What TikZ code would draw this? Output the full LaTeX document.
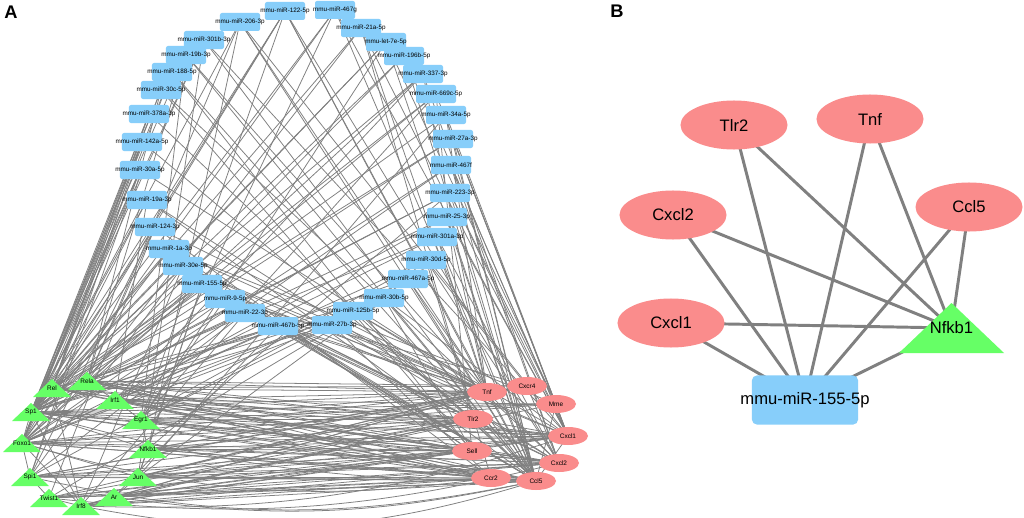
\documentclass[tikz,border=0pt]{standalone}
\usepackage{fontspec}
\setmainfont{Liberation Sans}
\usetikzlibrary{shapes.geometric}
\definecolor{mirblue}{RGB}{135,206,250}
\definecolor{genepink}{RGB}{250,140,140}
\definecolor{tfgreen}{RGB}{102,255,102}
\definecolor{edgegray}{RGB}{128,128,128}
\pgfdeclarelayer{background}
\pgfsetlayers{background,main}
\tikzset{
  panel/.style={inner sep=0pt, font=\bfseries\fontsize{13}{13}\selectfont},
  mirbox/.style={rectangle, rounded corners=0.05cm, fill=mirblue, minimum width=1cm,
    minimum height=0.45cm, inner sep=0pt, font=\fontsize{4.5}{5}\selectfont},
  geneA/.style={ellipse, fill=genepink, minimum width=1cm, minimum height=0.45cm,
    inner sep=0pt, font=\fontsize{4.6}{5}\selectfont},
  tflabel/.style={inner sep=0pt, font=\fontsize{4.6}{5}\selectfont},
  edgeA/.style={draw=edgegray, line width=0.55pt},
  geneB/.style={ellipse, fill=genepink, minimum width=2.675cm, minimum height=1.225cm,
    inner sep=0pt, font=\fontsize{11.8}{13}\selectfont},
  mirboxB/.style={rectangle, rounded corners=0.12cm, fill=mirblue, minimum width=2.65cm,
    minimum height=1.225cm, inner sep=0pt, font=\fontsize{11.8}{13}\selectfont},
  labelB/.style={inner sep=0pt, font=\fontsize{11.8}{13}\selectfont},
  edgeB/.style={draw=edgegray, line width=2.1pt}
}
\begin{document}
\begin{tikzpicture}[x=0.025cm, y=-0.025cm]
  % white page, one unit is one pixel
  \begin{pgfonlayer}{background}
    \fill[white] (0,0) rectangle (1024,518);
  \end{pgfonlayer}
  \useasboundingbox (0,0) rectangle (1024,518);

  % panel letters
  \node[panel] (letA) at (11,12) {A};
  \node[panel] (letB) at (617,11) {B};

  % A: ring of miRNAs
  \foreach \n/\x/\y/\lab in {
    m122/285/11/mmu-miR-122-5p, m206/240/22/mmu-miR-206-3p,
    m301b/204/40/mmu-miR-301b-3p, m19b/186/55/mmu-miR-19b-3p,
    m188/172/72/mmu-miR-188-5p, m30c/161/90/mmu-miR-30c-5p,
    m378a/149/114/mmu-miR-378a-3p, m142a/142/142/mmu-miR-142a-5p,
    m30a/140/170/mmu-miR-30a-5p, m19a/147/200/mmu-miR-19a-3p,
    m124/155/227/mmu-miR-124-3p, m1a/169/249/mmu-miR-1a-3p,
    m30e/183/266/mmu-miR-30e-5p, m155/202/284/mmu-miR-155-5p,
    m9/225/299/mmu-miR-9-5p, m22/245/313/mmu-miR-22-3p,
    m467b/278/326/mmu-miR-467b-5p, m27b/332/325/mmu-miR-27b-3p,
    m125b/353/311/mmu-miR-125b-5p, m30b/384/298/mmu-miR-30b-5p,
    m467a/408/279/mmu-miR-467a-5p, m30d/426/260/mmu-miR-30d-5p,
    m301a/437/237/mmu-miR-301a-3p, m25/447/217/mmu-miR-25-3p,
    m223/450/193/mmu-miR-223-3p, m467f/451/165/mmu-miR-467f,
    m27a/453/139/mmu-miR-27a-3p, m34a/446/115/mmu-miR-34a-5p,
    m669c/436/94/mmu-miR-669c-5p, m337/423/74/mmu-miR-337-3p,
    m196b/404/56/mmu-miR-196b-5p, let7e/386/42/mmu-let-7e-5p,
    m21a/361/28/mmu-miR-21a-5p, m467g/335/10/mmu-miR-467g}
    \node[mirbox] (\n) at (\x,\y) {\makebox[0pt]{\lab}};

  % A: transcription factors (triangles)
  \foreach \n/\x/\y/\lab in {
    rel/52/388/Rel, rela/87/381/Rela, irf1/115/400/Irf1, sp1/31/412/Sp1,
    egr1/141/420/Egr1, foxo1/22/443/Foxo1, nfkb1/148/449/Nfkb1,
    spi1/30/477/Spi1, jun/138/477/Jun, twist1/49/498/Twist1,
    ar/114/497/Ar, irf8/81/506/Irf8} {
    \fill[tfgreen] (\x-19,\y+9) -- (\x+19,\y+9) -- (\x,\y-9) -- cycle;
    \node[tflabel] (\n) at (\x,\y) {\lab};
  }

  % A: target genes (ellipses)
  \foreach \n/\x/\y/\lab in {
    tnf/487/392/Tnf, cxcr4/527/386/Cxcr4, mme/556/404/Mme,
    tlr2/473/419/Tlr2, cxcl1/568/436/Cxcl1, sell/472/451/Sell,
    cxcl2/559/463/Cxcl2, ccr2/491/478/Ccr2, ccl5/536/481/Ccl5}
    \node[geneA] (\n) at (\x,\y) {\lab};

  % B: the Nfkb1 / miR-155-5p subnetwork
  \node[geneB] (tlr2B) at (734,125) {Tlr2};
  \node[geneB] (tnfB) at (870,119) {Tnf};
  \node[geneB] (cxcl2B) at (673,215) {Cxcl2};
  \node[geneB] (ccl5B) at (969,207) {Ccl5};
  \node[geneB] (cxcl1B) at (671,323) {Cxcl1};
  \fill[tfgreen] (899,353) -- (1004,353) -- (951.5,303) -- cycle;
  \node[labelB] (nfkbB) at (951.5,328) {Nfkb1};
  \node[mirboxB] (mirB) at (805,400) {\makebox[0pt]{mmu-miR-155-5p}};

  \begin{pgfonlayer}{background}
    % A: miRNA -> targets
    \foreach \m/\ts in {
      m122/{sp1,rel,tnf,ccl5,egr1,cxcl2,foxo1}, m206/{rela,sp1,ccl5,tnf,nfkb1,cxcl1},
      m301b/{foxo1,jun,ccl5,cxcl1,sp1}, m19b/{sp1,tnf,ccl5,egr1,rela},
      m188/{rel,ccl5,sell,foxo1}, m30c/{rela,foxo1,sell,cxcl2,sp1},
      m378a/{sp1,rel,ccl5,foxo1}, m142a/{spi1,sp1,foxo1,tlr2,rel},
      m30a/{rel,foxo1,sp1,tnf,spi1}, m19a/{sp1,irf1,ccl5,cxcl2,foxo1},
      m124/{rela,twist1,tnf,ccr2,sp1,spi1}, m1a/{foxo1,sell,mme,sp1,tnf},
      m30e/{irf8,spi1,cxcl1,sp1,tnf,ccl5},
      m155/{nfkb1,tnf,tlr2,cxcl1,cxcl2,ccl5,sp1,jun,foxo1,rel},
      m9/{rel,egr1,cxcr4,foxo1,ccl5,tlr2}, m22/{sp1,irf8,tlr2,tnf,cxcl2,spi1},
      m467b/{ar,foxo1,ccl5,sp1,sell,tnf}, m27b/{egr1,sp1,cxcl2,foxo1,ccr2,tnf},
      m125b/{irf1,rela,tnf,cxcl1,sp1,ccl5}, m30b/{rel,twist1,sell,foxo1,ccl5,cxcl1},
      m467a/{jun,egr1,ccl5,sp1,tnf}, m30d/{spi1,tlr2,cxcr4,foxo1,cxcl2},
      m301a/{rela,foxo1,cxcl2,tnf,ccl5}, m25/{sp1,cxcl1,ccl5,irf1,tnf},
      m223/{rela,nfkb1,mme,cxcl1,sp1,ccl5}, m467f/{foxo1,irf1,ccl5,cxcl2,cxcl1},
      m27a/{sp1,rel,mme,cxcl1,ccl5}, m34a/{jun,sp1,tnf,ccl5,cxcl1},
      m669c/{rela,egr1,sell,cxcl1,sp1}, m337/{rel,irf1,cxcl2,tnf,foxo1},
      m196b/{sp1,foxo1,cxcl1,ccl5}, let7e/{rel,egr1,mme,ccl5,sp1},
      m21a/{sp1,rela,ccr2,tnf,cxcl1}, m467g/{egr1,foxo1,cxcl1,ccl5,sp1}}
      \foreach \g in \ts
        \draw[edgeA] (\m.center) -- (\g.center);
    % A: factors -> genes
    \foreach \f in {rel,rela,irf1,sp1,egr1,foxo1,nfkb1,spi1,jun,twist1,ar,irf8}
      \foreach \g in {tnf,tlr2,sell,ccr2,ccl5,cxcl1,cxcl2}
        \draw[edgeA] (\f.center) -- (\g.center);
    \foreach \a/\b in {rela/cxcr4, nfkb1/cxcr4, sp1/mme, egr1/mme, jun/cxcr4,
      rel/cxcr4, foxo1/mme, irf1/mme, spi1/cxcr4, ar/mme,
      rel/rela, rel/sp1, sp1/foxo1, sp1/egr1, irf1/egr1, egr1/nfkb1,
      nfkb1/jun, foxo1/spi1, spi1/twist1, twist1/irf8, irf8/ar, jun/ar,
      sp1/irf8, rela/irf1, rel/irf8, foxo1/irf8, sp1/nfkb1, foxo1/jun,
      tnf/cxcr4, tnf/ccl5, cxcl1/ccl5, tlr2/cxcl1, tlr2/ccl5, sell/cxcl2,
      ccr2/ccl5, mme/ccl5, cxcr4/cxcl2, tnf/cxcl2}
      \draw[edgeA] (\a.center) -- (\b.center);
    % A: repeated pairs, drawn bent
    \foreach \a/\b/\bb in {irf8/ccl5/14, spi1/ccl5/12, twist1/cxcl2/10,
      foxo1/ccr2/12, ar/ccl5/10, irf8/cxcl1/10, sp1/ccl5/8}
      \draw[edgeA] (\a.center) to[bend right=\bb] (\b.center);

    % B: edges
    \foreach \a/\b in {tlr2B/mirB, tlr2B/nfkbB, tnfB/mirB, tnfB/nfkbB,
      cxcl2B/mirB, cxcl2B/nfkbB, ccl5B/mirB, ccl5B/nfkbB,
      cxcl1B/mirB, cxcl1B/nfkbB, nfkbB/mirB}
      \draw[edgeB] (\a.center) -- (\b.center);
  \end{pgfonlayer}
\end{tikzpicture}
\end{document}
